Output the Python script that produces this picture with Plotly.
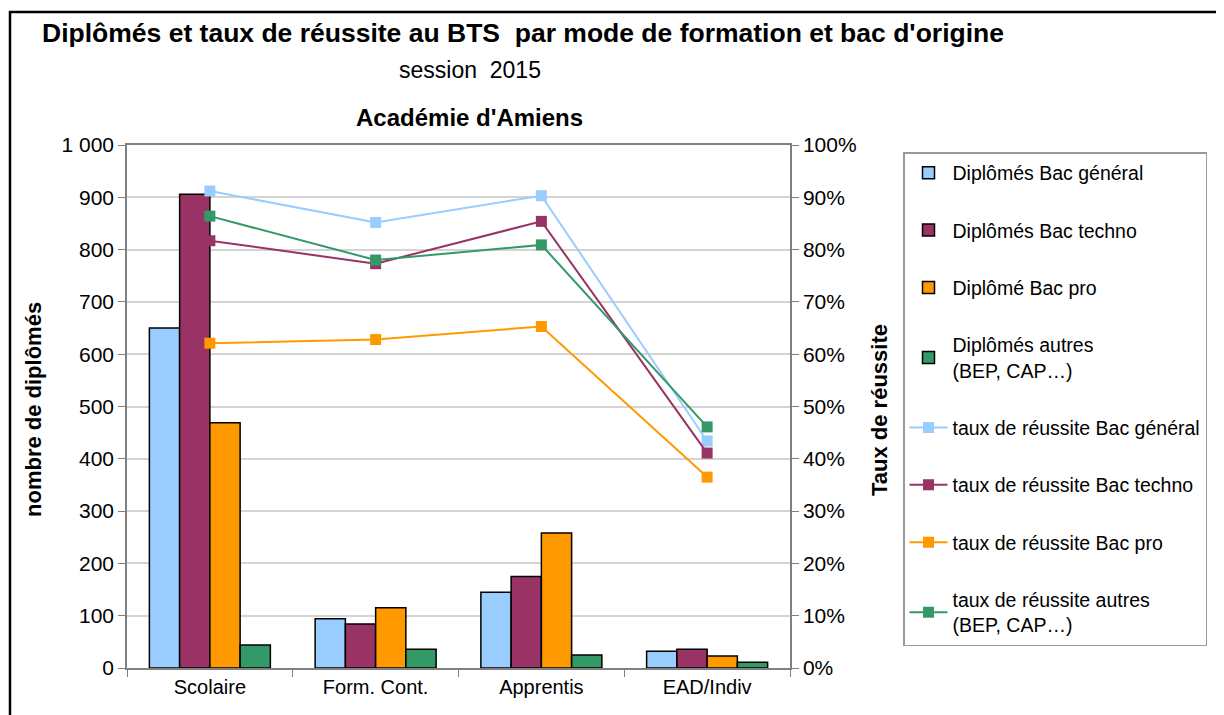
import plotly.graph_objects as go

categories = ["Scolaire", "Form. Cont.", "Apprentis", "EAD/Indiv"]

dipl_general = [650, 94, 145, 32]
dipl_techno = [906, 84, 175, 36]
dipl_pro = [469, 115, 258, 23]
dipl_autres = [44, 36, 25, 11]

taux_general = [91.2, 85.2, 90.3, 43.4]
taux_techno = [81.7, 77.3, 85.4, 41.1]
taux_pro = [62.1, 62.8, 65.3, 36.5]
taux_autres = [86.4, 78.0, 80.9, 46.1]

left_tickvals = [0, 100, 200, 300, 400, 500, 600, 700, 800, 900, 1000]
left_ticktext = ["0", "100", "200", "300", "400", "500", "600", "700", "800", "900", "1 000"]
right_tickvals = [0, 10, 20, 30, 40, 50, 60, 70, 80, 90, 100]
right_ticktext = ["0%", "10%", "20%", "30%", "40%", "50%", "60%", "70%", "80%", "90%", "100%"]

C_GEN = "#99CCFF"
C_TEC = "#993366"
C_PRO = "#FF9900"
C_AUT = "#339966"

FONT = "Liberation Sans, Arial, sans-serif"

fig = go.Figure()

bar_specs = [
    ("Diplômés Bac général", dipl_general, C_GEN),
    ("Diplômés Bac techno", dipl_techno, C_TEC),
    ("Diplômé Bac pro", dipl_pro, C_PRO),
    ("Diplômés autres<br>(BEP, CAP…)", dipl_autres, C_AUT),
]
for i, (name, vals, col) in enumerate(bar_specs):
    fig.add_trace(go.Bar(
        x=categories, y=vals, name=name, legendgroup=f"g{i}",
        marker=dict(color=col, line=dict(color="black", width=1.5)),
        yaxis="y",
    ))

line_specs = [
    ("taux de réussite Bac général", taux_general, C_GEN),
    ("taux de réussite Bac techno", taux_techno, C_TEC),
    ("taux de réussite Bac pro", taux_pro, C_PRO),
    ("taux de réussite autres<br>(BEP, CAP…)", taux_autres, C_AUT),
]
for i, (name, vals, col) in enumerate(line_specs):
    fig.add_trace(go.Scatter(
        x=categories, y=vals, name=name, legendgroup=f"l{i}",
        mode="lines+markers",
        line=dict(color=col, width=2),
        marker=dict(symbol="square", size=11, color=col),
        yaxis="y2",
    ))

OFF = 8  # page body margin
W, H = 1224 - OFF, 715 - OFF
L, R, T, B = 127 - OFF, 790 - OFF, 145 - OFF, 668 - OFF

def px(x):
    return (x - OFF - L) / (R - L)

def py(y):
    return (B - (y - OFF)) / (B - T)

fig.update_layout(
    width=W, height=H,
    margin=dict(l=L, r=W - R, t=T, b=H - B, autoexpand=False),
    paper_bgcolor="white", plot_bgcolor="white",
    font=dict(family=FONT, size=21, color="black"),
    barmode="group", bargap=0.27, bargroupgap=0,
    showlegend=True,
    legend=dict(
        x=px(903), y=py(152), xanchor="left", yanchor="top",
        bordercolor="#9a9a9a", borderwidth=1.5,
        font=dict(family=FONT, size=19.5, color="black"),
        tracegroupgap=29, itemwidth=38,
        bgcolor="white",
    ),
    xaxis=dict(
        type="category",
        showgrid=False,
        showline=True, linecolor="#808080", linewidth=1.5,
        mirror=True,
        ticks="outside", tickson="boundaries", ticklen=7, tickcolor="#808080",
        tickfont=dict(family=FONT, size=20),
    ),
    yaxis=dict(
        range=[0, 1000],
        tickvals=left_tickvals, ticktext=left_ticktext,
        showgrid=True, gridcolor="#d4d4d4", gridwidth=1.5,
        showline=True, linecolor="#808080", linewidth=1.5,
        ticks="outside", ticklen=7, tickcolor="#808080",
        tickfont=dict(family=FONT, size=21),
        zeroline=False,
    ),
    yaxis2=dict(
        range=[0, 100], overlaying="y", side="right",
        tickvals=right_tickvals, ticktext=right_ticktext,
        showgrid=False,
        showline=True, linecolor="#808080", linewidth=1.5,
        ticks="outside", ticklen=7, tickcolor="#808080",
        tickfont=dict(family=FONT, size=21),
        zeroline=False,
    ),
)

annotations = [
    dict(text="<b>Diplômés et taux de réussite au BTS  par mode de formation et bac d'origine</b>",
         x=px(523), y=py(33), font=dict(size=26.5)),
    dict(text="session  2015", x=px(470), y=py(70), font=dict(size=23)),
    dict(text="<b>Académie d'Amiens</b>", x=px(469), y=py(117), font=dict(size=24)),
    dict(text="<b>nombre de diplômés</b>", x=px(34), y=py(410), textangle=-90, font=dict(size=22)),
    dict(text="<b>Taux de réussite</b>", x=px(880), y=py(410), textangle=-90, font=dict(size=22)),
]
for a in annotations:
    a.update(xref="paper", yref="paper", showarrow=False, xanchor="center", yanchor="middle")
    a["font"]["family"] = FONT
    a["font"]["color"] = "black"
fig.update_layout(annotations=annotations)

fig.add_shape(type="rect", xref="paper", yref="paper",
              x0=px(10), x1=px(1221), y0=py(725), y1=py(12),
              line=dict(color="black", width=2.5), fillcolor="rgba(0,0,0,0)", layer="below")

fig.write_html("out.html")
